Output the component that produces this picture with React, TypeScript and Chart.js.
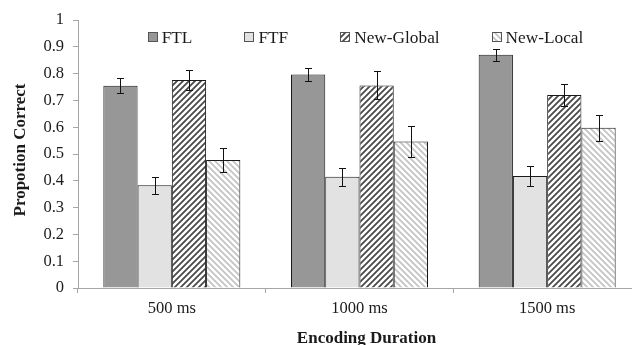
import { useEffect, useRef } from 'react';
import { Chart, registerables } from 'chart.js';

Chart.register(...registerables);

const categories = ['500 ms', '1000 ms', '1500 ms'];
const seriesNames = ['FTL', 'FTF', 'New-Global', 'New-Local'];
const ftlValues = [0.755, 0.797, 0.870];
const ftfValues = [0.383, 0.415, 0.418];
const newGlobalValues = [0.776, 0.756, 0.720];
const newLocalValues = [0.478, 0.547, 0.598];
const ftlErrors = [0.028, 0.024, 0.022];
const ftfErrors = [0.033, 0.034, 0.038];
const newGlobalErrors = [0.039, 0.052, 0.042];
const newLocalErrors = [0.046, 0.057, 0.048];
const yTickLabels = ['0', '0.1', '0.2', '0.3', '0.4', '0.5', '0.6', '0.7', '0.8', '0.9', '1'];
const xTitle = 'Encoding Duration';
const yTitle = 'Propotion Correct';

const FONT = "'Liberation Serif', 'Times New Roman', serif";

function makeHatch(ctx: CanvasRenderingContext2D, bg: string, fg: string, dir: number, size = 6, lw = 1.8) {
  const c = document.createElement('canvas');
  c.width = size;
  c.height = size;
  const x = c.getContext('2d')!;
  x.fillStyle = bg;
  x.fillRect(0, 0, size, size);
  x.strokeStyle = fg;
  x.lineWidth = lw;
  x.beginPath();
  if (dir === 1) {
    x.moveTo(-1, size + 1); x.lineTo(size + 1, -1);
    x.moveTo(-1, 1); x.lineTo(1, -1);
    x.moveTo(size - 1, size + 1); x.lineTo(size + 1, size - 1);
  } else {
    x.moveTo(-1, -1); x.lineTo(size + 1, size + 1);
    x.moveTo(size - 1, -1); x.lineTo(size + 1, 1);
    x.moveTo(-1, size - 1); x.lineTo(1, size + 1);
  }
  x.stroke();
  return ctx.createPattern(c, 'repeat')!;
}

const errorBarPlugin = {
  id: 'errorBars',
  afterDatasetsDraw(chart: any) {
    const ctx = chart.ctx as CanvasRenderingContext2D;
    const y = chart.scales.y;
    chart.data.datasets.forEach((ds: any, i: number) => {
      const meta = chart.getDatasetMeta(i);
      meta.data.forEach((bar: any, j: number) => {
        const v = ds.data[j];
        const e = ds.errors[j];
        const top = Math.round(y.getPixelForValue(v + e)) + 0.5;
        const bot = Math.round(y.getPixelForValue(v - e)) + 0.5;
        const x = Math.round(bar.x) + 0.5;
        ctx.save();
        ctx.strokeStyle = '#111';
        ctx.lineWidth = 1;
        ctx.beginPath();
        ctx.moveTo(x, top); ctx.lineTo(x, bot);
        ctx.moveTo(x - 3.5, top); ctx.lineTo(x + 3.5, top);
        ctx.moveTo(x - 3.5, bot); ctx.lineTo(x + 3.5, bot);
        ctx.stroke();
        ctx.restore();
      });
    });
  },
};

const legendPlugin = {
  id: 'insideLegend',
  afterDraw(chart: any) {
    const ctx = chart.ctx as CanvasRenderingContext2D;
    const area = chart.chartArea;
    const box = 10;
    const gapText = 4;
    const gapItem = 52;
    ctx.save();
    ctx.font = `17.3px ${FONT}`;
    const items = chart.data.datasets.map((ds: any) => ({
      label: ds.label,
      fill: ds.backgroundColor,
      w: box + gapText + ctx.measureText(ds.label).width,
    }));
    const total = items.reduce((s: number, it: any) => s + it.w, 0) + gapItem * (items.length - 1);
    let x = (area.left + area.right) / 2 - total / 2 + 6;
    const cy = area.top + 17;
    ctx.textBaseline = 'middle';
    items.forEach((it: any) => {
      ctx.fillStyle = it.fill;
      ctx.fillRect(Math.round(x), Math.round(cy - box / 2), box, box);
      ctx.strokeStyle = '#555';
      ctx.lineWidth = 1;
      ctx.strokeRect(Math.round(x) + 0.5, Math.round(cy - box / 2) + 0.5, box - 1, box - 1);
      ctx.fillStyle = '#1a1a1a';
      ctx.fillText(it.label, x + box + gapText, cy + 1);
      x += it.w + gapItem;
    });
    ctx.restore();
  },
};

const axisTitlePlugin = {
  id: 'axisTitles',
  afterDraw(chart: any) {
    const ctx = chart.ctx as CanvasRenderingContext2D;
    const area = chart.chartArea;
    ctx.save();
    ctx.fillStyle = '#1a1a1a';
    ctx.font = `bold 17px ${FONT}`;
    ctx.textAlign = 'center';
    ctx.textBaseline = 'alphabetic';
    ctx.fillText(xTitle, (area.left + area.right) / 2 + 7, chart.height - 2);
    ctx.translate(25, (area.top + area.bottom) / 2 - 4);
    ctx.rotate(-Math.PI / 2);
    ctx.fillText(yTitle, 0, 0);
    ctx.restore();
  },
};

export default function App() {
  const ref = useRef<HTMLCanvasElement | null>(null);

  useEffect(() => {
    document.body.style.margin = '0';
    document.body.style.overflow = 'hidden';
    const canvas = ref.current!;
    const ctx = canvas.getContext('2d')!;
    const ngPattern = makeHatch(ctx, '#ffffff', '#4a4a4a', 1);
    const nlPattern = makeHatch(ctx, '#ffffff', '#c4c4c4', -1);

    const chart = new Chart(canvas, {
      type: 'bar',
      data: {
        labels: categories,
        datasets: [
          { label: seriesNames[0], data: ftlValues, errors: ftlErrors, backgroundColor: '#979797' } as any,
          { label: seriesNames[1], data: ftfValues, errors: ftfErrors, backgroundColor: '#e2e2e2' } as any,
          { label: seriesNames[2], data: newGlobalValues, errors: newGlobalErrors, backgroundColor: ngPattern } as any,
          { label: seriesNames[3], data: newLocalValues, errors: newLocalErrors, backgroundColor: nlPattern } as any,
        ].map((d: any) => ({
          ...d,
          borderColor: '#1a1a1a',
          borderWidth: 1,
          categoryPercentage: 0.73,
          barPercentage: 1,
        })),
      },
      options: {
        responsive: false,
        animation: false,
        devicePixelRatio: 1,
        layout: { padding: { top: 20, right: 4, left: 0, bottom: 0 } },
        plugins: {
          legend: { display: false },
          tooltip: { enabled: false },
        },
        scales: {
          x: {
            afterFit: (s: any) => { s.height = 57; },
            border: { color: '#a6a6a6', width: 1 },
            grid: { drawOnChartArea: false, drawTicks: true, tickLength: 5, color: '#a6a6a6', offset: true },
            ticks: { color: '#1a1a1a', font: { family: FONT, size: 16.5 }, padding: 6 },
          },
          y: {
            min: 0,
            max: 1,
            afterFit: (s: any) => { s.width = 78; },
            border: { color: '#a6a6a6', width: 1 },
            grid: { drawOnChartArea: false, drawTicks: true, tickLength: 5, color: '#a6a6a6' },
            ticks: {
              stepSize: 0.1,
              color: '#1a1a1a',
              font: { family: FONT, size: 16.5 },
              padding: 9,
              callback: (_v: any, i: number) => yTickLabels[i],
            },
          },
        },
      } as any,
      plugins: [errorBarPlugin, legendPlugin, axisTitlePlugin],
    });
    return () => chart.destroy();
  }, []);

  return (
    <div style={{ position: 'fixed', left: 0, top: 0, width: 632, height: 345, overflow: 'hidden', background: '#fff' }}>
      <canvas ref={ref} width={645} height={345} style={{ display: 'block' }} />
    </div>
  );
}
